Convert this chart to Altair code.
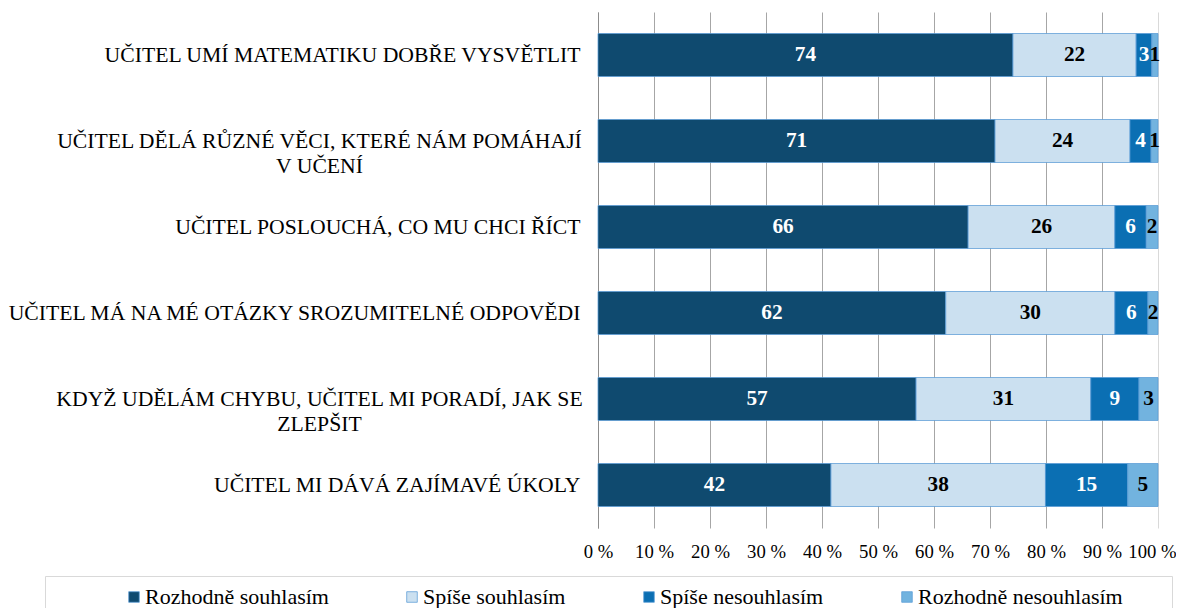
import altair as alt
import pandas as pd

categories = [
    "UČITEL UMÍ MATEMATIKU DOBŘE VYSVĚTLIT",
    "UČITEL DĚLÁ RŮZNÉ VĚCI, KTERÉ NÁM POMÁHAJÍ\nV UČENÍ",
    "UČITEL POSLOUCHÁ, CO MU CHCI ŘÍCT",
    "UČITEL MÁ NA MÉ OTÁZKY SROZUMITELNÉ ODPOVĚDI",
    "KDYŽ UDĚLÁM CHYBU, UČITEL MI PORADÍ, JAK SE\nZLEPŠIT",
    "UČITEL MI DÁVÁ ZAJÍMAVÉ ÚKOLY",
]
series = ["Rozhodně souhlasím", "Spíše souhlasím", "Spíše nesouhlasím", "Rozhodně nesouhlasím"]
colors = ["#0F4A6F", "#CBE0F0", "#0B6FB3", "#72B3DF"]

rozhodne_souhlasim = [74.1, 70.9, 66.1, 62.1, 56.8, 41.6]
spise_souhlasim = [22.0, 24.1, 26.2, 30.2, 31.2, 38.3]
spise_nesouhlasim = [2.8, 3.75, 5.6, 5.9, 8.6, 14.7]
rozhodne_nesouhlasim = [1.1, 1.25, 2.1, 1.8, 3.4, 5.4]

values_by_series = [rozhodne_souhlasim, spise_souhlasim, spise_nesouhlasim, rozhodne_nesouhlasim]
x_ticks = list(range(0, 101, 10))

rows = []
for i, cat in enumerate(categories):
    acc = 0.0
    for s, vals in zip(series, values_by_series):
        v = vals[i]
        rows.append({"category": cat, "series": s, "value": v,
                     "start": acc, "end": acc + v, "mid": acc + v / 2})
        acc += v
df = pd.DataFrame(rows)

FONT = "Liberation Serif"
multiline_test = "indexof(datum.value, '\\n') >= 0"

y_enc = alt.Y(
    "category:N",
    sort=categories,
    scale=alt.Scale(paddingInner=0.5, paddingOuter=0.25),
    axis=alt.Axis(
        title=None,
        labelExpr="split(datum.value, '\\n')",
        labelFont=FONT,
        labelFontSize=21.7,
        labelColor="black",
        labelLineHeight=25,
        labelLimit=800,
        labelAlign={"condition": {"test": multiline_test, "value": "center"}, "value": "right"},
        labelPadding={"condition": {"test": multiline_test, "value": 279}, "value": 18},
        ticks=False,
        domainColor="#8c8c8c",
        domainWidth=1,
        grid=False,
    ),
)

x_axis = alt.Axis(
    title=None,
    values=x_ticks,
    labelExpr="datum.value + ' %'",
    labelFont=FONT,
    labelFontSize=18.7,
    labelColor="black",
    labelPadding=14,
    labelOverlap=False,
    labelFlush=False,
    labelBound=False,
    labelOffset={"condition": {"test": "datum.value == 100", "value": -6}, "value": 0},
    domain=False,
    ticks=False,
    grid=True,
    gridColor={"condition": {"test": "datum.value == 100", "value": "#d9d9d9"}, "value": "#a6a6a6"},
    gridWidth=1,
)

# invisible spacing inside the legend frame (zero-width spaces keep the gap from being trimmed)
ZW = "\u200b"
left_gap = ZW + "\u00a0" * 12 + ZW
right_gap = "\u00a0" * 7 + ZW
last_label = series[-1]

legend = alt.Legend(
    title=left_gap,
    titleOrient="left",
    titleFont=FONT,
    titleFontSize=22,
    titlePadding=0,
    orient="none",
    legendX=-553,
    legendY=564,
    direction="horizontal",
    columns=4,
    columnPadding=70,
    symbolType="square",
    symbolSize=112,
    symbolOffset=2,
    symbolStrokeWidth=0.75,
    symbolStrokeColor="#5A9BD5",
    labelFont=FONT,
    labelFontSize=22,
    labelColor="black",
    labelOffset=0,
    labelLimit=500,
    labelExpr=f"datum.label == '{last_label}' ? datum.label + '{right_gap}' : datum.label",
    strokeColor="#d9d9d9",
    padding=10,
)

bars = alt.Chart(df).mark_bar(stroke="#5A9BD5", strokeWidth=0.75).encode(
    x=alt.X("start:Q", scale=alt.Scale(domain=[0, 100], nice=False), axis=x_axis),
    x2="end:Q",
    y=y_enc,
    color=alt.Color("series:N", scale=alt.Scale(domain=series, range=colors), legend=legend),
)

text = alt.Chart(df).mark_text(
    font=FONT, fontSize=21.3, fontWeight="bold", baseline="middle", align="center"
).encode(
    x=alt.X("mid:Q"),
    y=alt.Y("category:N", sort=categories),
    text=alt.Text("value:Q", format=".0f"),
    color=alt.condition(
        f"datum.series == '{series[0]}' || datum.series == '{series[2]}'",
        alt.value("white"),
        alt.value("black"),
    ),
)

chart = (
    alt.layer(bars, text)
    .properties(
        width=560,
        height=516,
        padding={"left": 590, "top": 4, "right": 18, "bottom": 100},
        autosize=alt.AutoSizeParams(type="none"),
    )
    .configure(font=FONT)
    .configure_view(stroke=None)
)

chart.save("out.html", embed_options={"renderer": "svg", "actions": False})
